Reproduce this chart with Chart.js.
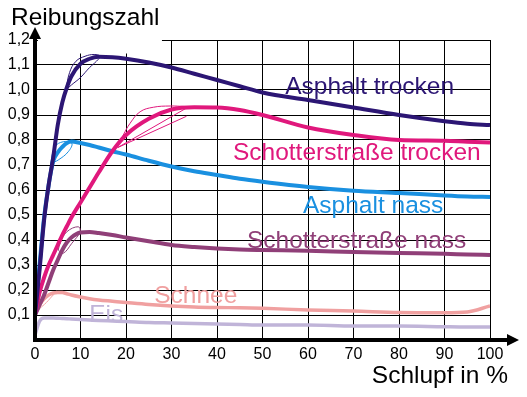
<!DOCTYPE html>
<html>
<head>
<meta charset="utf-8">
<script src="https://cdn.jsdelivr.net/npm/chart.js@4/dist/chart.umd.min.js"></script>
<style>
  html, body { margin: 0; padding: 0; background: #fff; }
  #wrap { width: 527px; height: 397px; }
</style>
</head>
<body>
<div id="wrap"><canvas id="chart" width="527" height="397"></canvas></div>
<script>
// Schlupf in % (shared x positions of the sampled points)
const slip = [0, 1, 2, 3, 4, 5, 6, 7, 8, 10, 12, 14, 17, 20, 25, 30, 35, 40, 45, 50, 60, 70, 80, 90, 95, 100];

// Reibungszahl per surface
const asphaltTrocken = [0.10, 0.28, 0.48, 0.62, 0.73, 0.86, 0.95, 1.01, 1.055, 1.105, 1.125, 1.133, 1.131, 1.125, 1.11, 1.09, 1.065, 1.04, 1.015, 0.99, 0.96, 0.93, 0.90, 0.875, 0.865, 0.86];
const schotterTrocken = [0.10, 0.19, 0.25, 0.30, 0.34, 0.38, 0.42, 0.455, 0.49, 0.55, 0.61, 0.67, 0.755, 0.82, 0.885, 0.922, 0.931, 0.93, 0.92, 0.90, 0.85, 0.82, 0.80, 0.797, 0.793, 0.79];
const asphaltNass = [0.10, 0.30, 0.49, 0.62, 0.715, 0.75, 0.772, 0.788, 0.794, 0.788, 0.78, 0.77, 0.755, 0.742, 0.717, 0.694, 0.675, 0.66, 0.645, 0.633, 0.612, 0.597, 0.588, 0.578, 0.574, 0.572];
const schotterNass = [0.10, 0.14, 0.18, 0.23, 0.28, 0.32, 0.36, 0.39, 0.41, 0.43, 0.432, 0.428, 0.42, 0.41, 0.395, 0.38, 0.372, 0.366, 0.362, 0.36, 0.357, 0.352, 0.348, 0.345, 0.342, 0.34];
const schnee = [0.10, 0.14, 0.165, 0.18, 0.188, 0.19, 0.19, 0.185, 0.18, 0.172, 0.165, 0.16, 0.155, 0.15, 0.142, 0.136, 0.132, 0.13, 0.129, 0.127, 0.12, 0.116, 0.11, 0.109, 0.112, 0.136];
const eis = [0.02, 0.075, 0.088, 0.088, 0.088, 0.087, 0.086, 0.085, 0.084, 0.082, 0.08, 0.078, 0.076, 0.074, 0.07, 0.068, 0.066, 0.064, 0.062, 0.06, 0.06, 0.056, 0.056, 0.053, 0.052, 0.052];

// thin construction loops left over near the maxima
const loopAsphaltTrockenX = [6.8, 7.6, 9, 11, 13, 14.3, 13.5, 12, 10, 8, 6.8];
const loopAsphaltTrockenY = [1.0, 1.07, 1.115, 1.135, 1.142, 1.135, 1.115, 1.09, 1.05, 1.02, 1.0];
const loopSchotterArcX = [17.9, 19.4, 20.9, 23.1, 26, 29.7, 33];
const loopSchotterArcY = [0.767, 0.82, 0.867, 0.913, 0.931, 0.936, 0.934];
const loopSchotterFanX = [33.5, 18.2, 33.3];
const loopSchotterFanY = [0.93, 0.77, 0.895];
const loopAsphaltNassX = [3.4, 4.4, 6.2, 8.1, 7.3, 5.1, 3.4];
const loopAsphaltNassY = [0.705, 0.773, 0.793, 0.787, 0.753, 0.72, 0.705];
const loopSchotterNassX = [5.1, 5.6, 7, 9.5, 9.9, 8.1, 6.2, 5.1];
const loopSchotterNassY = [0.36, 0.39, 0.433, 0.453, 0.433, 0.387, 0.347, 0.36];
const loopSchneeX = [0.8, 2, 3.5, 4.8, 4, 2.5, 1, 0.8];
const loopSchneeY = [0.12, 0.16, 0.185, 0.195, 0.18, 0.15, 0.125, 0.12];

// tick labels
const xTicks = [0, 10, 20, 30, 40, 50, 60, 70, 80, 90, 100];
const yTicks = [0.1, 0.2, 0.3, 0.4, 0.5, 0.6, 0.7, 0.8, 0.9, 1.0, 1.1, 1.2];

const seriesNames = ['Asphalt trocken', 'Schotterstraße trocken', 'Asphalt nass', 'Schotterstraße nass', 'Schnee', 'Eis'];
const seriesValues = [asphaltTrocken, schotterTrocken, asphaltNass, schotterNass, schnee, eis];
const seriesColors = ['#2c1674', '#e0187c', '#1a90e0', '#903f78', '#f0a0a0', '#c0b4d8'];
const seriesWidths = [4, 4, 4, 4, 3.5, 3.5];

// where each curve's name sits (data coordinates: left edge, baseline)
const labelAt = [[55, 0.984], [43.5, 0.72], [58.9, 0.508], [46.6, 0.368], [26.2, 0.148], [11.9, 0.072]];

const FONT = "'Liberation Sans', Arial, sans-serif";

const datasets = seriesNames.map((name, i) => ({
    label: name,
    data: slip.map((x, j) => ({ x, y: seriesValues[i][j] })),
    borderColor: seriesColors[i],
    borderWidth: seriesWidths[i],
    pointRadius: 0,
    fill: false,
    cubicInterpolationMode: 'monotone'
}));

function loop(xs, ys, color, tension) {
    return {
        data: xs.map((x, j) => ({ x, y: ys[j] })),
        borderColor: color,
        borderWidth: 1,
        pointRadius: 0,
        fill: false,
        tension
    };
}
datasets.push(
    loop(loopAsphaltTrockenX, loopAsphaltTrockenY, seriesColors[0], 0.4),
    loop(loopSchotterArcX, loopSchotterArcY, seriesColors[1], 0.4),
    loop(loopSchotterFanX, loopSchotterFanY, seriesColors[1], 0),
    loop(loopAsphaltNassX, loopAsphaltNassY, seriesColors[2], 0.4),
    loop(loopSchotterNassX, loopSchotterNassY, seriesColors[3], 0.4),
    loop(loopSchneeX, loopSchneeY, seriesColors[4], 0.4)
);

// draws the blank corner under the title, the axis arrows, the curve names and axis titles
const decor = {
    id: 'decor',
    beforeDatasetsDraw(chart) {
        const { ctx, scales: { x, y } } = chart;
        ctx.save();
        ctx.fillStyle = '#fff';
        const l = x.getPixelForValue(0) + 3, r = x.getPixelForValue(27.9);
        const t = y.getPixelForValue(1.2) - 3, b = y.getPixelForValue(1.146);
        ctx.fillRect(l, t, r - l, b - t);
        ctx.restore();
    },
    afterDraw(chart) {
        const { ctx, chartArea: a, scales: { x, y } } = chart;
        ctx.save();
        ctx.fillStyle = '#000';
        ctx.strokeStyle = '#000';
        ctx.lineWidth = 4;
        // y axis arrow
        ctx.beginPath();
        ctx.moveTo(a.left, a.bottom + 2);
        ctx.lineTo(a.left, a.top - 4);
        ctx.stroke();
        ctx.beginPath();
        ctx.moveTo(a.left, a.top - 13);
        ctx.lineTo(a.left - 6, a.top - 1);
        ctx.lineTo(a.left + 6, a.top - 1);
        ctx.closePath();
        ctx.fill();
        // x axis arrow
        ctx.beginPath();
        ctx.moveTo(a.left - 2, a.bottom);
        ctx.lineTo(a.right + 20, a.bottom);
        ctx.stroke();
        ctx.beginPath();
        ctx.moveTo(a.right + 29, a.bottom);
        ctx.lineTo(a.right + 17, a.bottom - 6);
        ctx.lineTo(a.right + 17, a.bottom + 6);
        ctx.closePath();
        ctx.fill();

        // curve names
        ctx.font = '24.5px ' + FONT;
        ctx.textBaseline = 'alphabetic';
        ctx.textAlign = 'left';
        seriesNames.forEach((name, i) => {
            ctx.fillStyle = seriesColors[i];
            ctx.fillText(name, x.getPixelForValue(labelAt[i][0]), y.getPixelForValue(labelAt[i][1]));
        });

        // axis titles
        ctx.fillStyle = '#000';
        ctx.font = '24.5px ' + FONT;
        ctx.fillText('Reibungszahl', 11, 25);
        ctx.textAlign = 'right';
        ctx.fillText('Schlupf in %', 508, 383);
        ctx.restore();
    }
};

new Chart(document.getElementById('chart'), {
    type: 'line',
    data: { datasets },
    options: {
        responsive: false,
        animation: false,
        layout: { padding: { left: 0, right: 37, top: 40, bottom: 0 } },
        plugins: { legend: { display: false }, title: { display: false }, tooltip: { enabled: false } },
        scales: {
            x: {
                type: 'linear',
                min: 0,
                max: 100,
                afterFit(s) { s.height = 57; },
                afterBuildTicks(s) { s.ticks = xTicks.map(v => ({ value: v })); },
                ticks: { color: '#000', font: { family: FONT, size: 16 }, padding: 5, maxRotation: 0, callback: v => String(v) },
                grid: { color: '#000', lineWidth: 1, drawTicks: false },
                border: { display: true, color: '#000', width: 4 }
            },
            y: {
                min: 0,
                max: 1.2,
                afterFit(s) { s.width = 35; },
                afterBuildTicks(s) { s.ticks = [0].concat(yTicks).map(v => ({ value: v })); },
                ticks: {
                    color: '#000',
                    font: { family: FONT, size: 16 },
                    padding: 5,
                    callback: v => v === 0 ? '' : v.toFixed(1).replace('.', ',')
                },
                grid: { color: '#000', lineWidth: 1, drawTicks: false },
                border: { display: true, color: '#000', width: 4 }
            }
        }
    },
    plugins: [decor]
});
</script>
</body>
</html>
